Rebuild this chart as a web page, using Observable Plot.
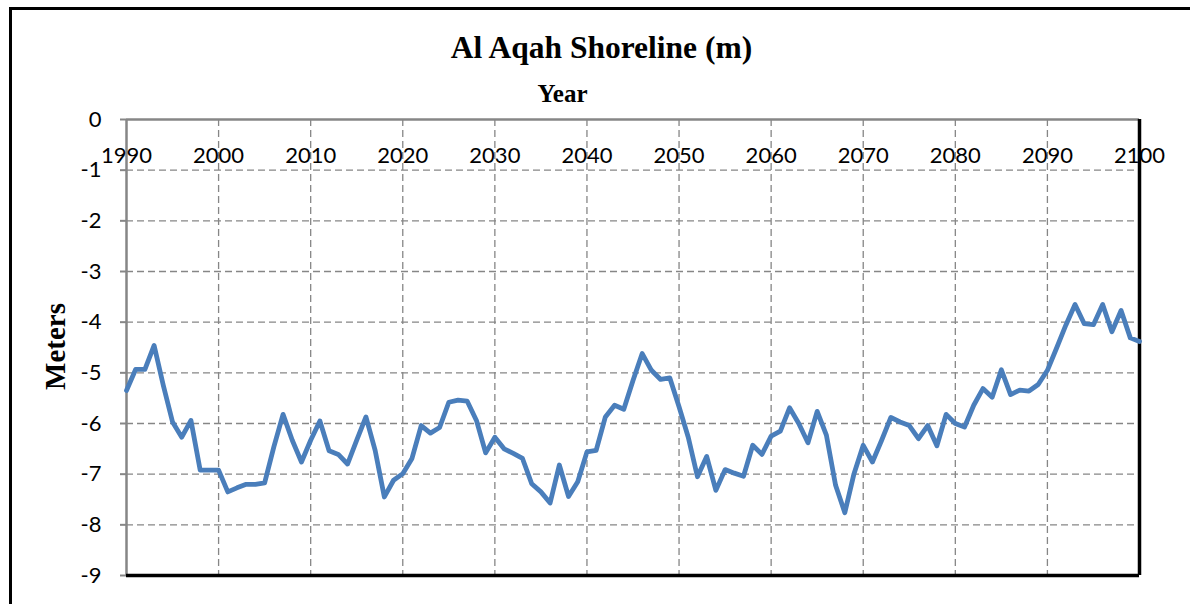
<!DOCTYPE html>
<html>
<head>
<meta charset="utf-8">
<script src="https://cdn.jsdelivr.net/npm/d3@7"></script>
<script src="https://cdn.jsdelivr.net/npm/@observablehq/plot@0.6"></script>
<style>
  html, body { margin: 0; padding: 0; background: #ffffff; }
  #wrap { position: relative; width: 1190px; height: 604px; overflow: hidden; background: #ffffff; }
  #wrap svg { position: absolute; left: 0; top: 0; }
  #frame { position: absolute; left: 8.5px; top: 6.5px; right: -10px; bottom: -10px;
           border-left: 3px solid #000; border-top: 3px solid #000; pointer-events: none; }
</style>
</head>
<body>
<div id="wrap"><div id="frame"></div></div>
<script>
// ---- data ----
const title = "Al Aqah Shoreline (m)";
const xTitle = "Year";
const yTitle = "Meters";
const startYear = 1990;
const meters = [
  -5.35, -4.93, -4.93, -4.46, -5.25, -5.97, -6.27, -5.94, -6.92, -6.92,   // 1990-1999
  -6.92, -7.35, -7.27, -7.20, -7.20, -7.17, -6.46, -5.82, -6.33, -6.76,   // 2000-2009
  -6.33, -5.95, -6.54, -6.61, -6.80, -6.33, -5.87, -6.53, -7.45, -7.12,   // 2010-2019
  -6.99, -6.69, -6.04, -6.19, -6.08, -5.58, -5.54, -5.56, -5.94, -6.58,   // 2020-2029
  -6.27, -6.50, -6.59, -6.69, -7.19, -7.35, -7.57, -6.82, -7.44, -7.15,   // 2030-2039
  -6.56, -6.53, -5.87, -5.64, -5.72, -5.15, -4.62, -4.95, -5.13, -5.10,   // 2040-2049
  -5.67, -6.27, -7.05, -6.65, -7.32, -6.91, -6.98, -7.04, -6.43, -6.61,   // 2050-2059
  -6.25, -6.15, -5.69, -6.00, -6.38, -5.76, -6.23, -7.22, -7.76, -6.99,   // 2060-2069
  -6.43, -6.76, -6.33, -5.88, -5.97, -6.04, -6.30, -6.04, -6.44, -5.82,   // 2070-2079
  -6.00, -6.07, -5.64, -5.31, -5.48, -4.94, -5.43, -5.34, -5.36, -5.23,   // 2080-2089
  -4.95, -4.51, -4.06, -3.65, -4.03, -4.05, -3.65, -4.19, -3.77, -4.31,   // 2090-2099
  -4.38                                                                   // 2100
];
const years = meters.map((_, i) => startYear + i);
const xTicks = [1990, 2000, 2010, 2020, 2030, 2040, 2050, 2060, 2070, 2080, 2090, 2100];
const xGrid = [2000, 2010, 2020, 2030, 2040, 2050, 2060, 2070, 2080, 2090];
const yTicks = [0, -1, -2, -3, -4, -5, -6, -7, -8, -9];
const yGrid = [-1, -2, -3, -4, -5, -6, -7, -8];

const rows = years.map((yr, i) => ({year: yr, value: meters[i]}));

const serif = "'Liberation Serif', 'Times New Roman', serif";
const gridColor = "#868686";

const chart = Plot.plot({
  width: 1190,
  height: 604,
  marginLeft: 126,
  marginRight: 51,
  marginTop: 119,
  marginBottom: 29,
  x: {domain: [1990, 2100], axis: null},
  y: {domain: [-9, 0]},
  style: {fontFamily: "Lato, 'Open Sans', sans-serif", fontSize: "22px", background: "transparent", overflow: "visible", color: "#000"},
  marks: [
    Plot.ruleY(yGrid, {stroke: gridColor, strokeWidth: 1.3, strokeDasharray: "7,4"}),
    Plot.ruleX(xGrid, {stroke: gridColor, strokeWidth: 1.3, strokeDasharray: "7,4"}),
    Plot.ruleY([0], {stroke: gridColor, strokeWidth: 2.5}),
    Plot.ruleX([1990], {stroke: gridColor, strokeWidth: 2.5}),
    Plot.axisY({ticks: yTicks, tickSize: 6, tickPadding: 19, stroke: gridColor, strokeWidth: 2,
                tickFormat: d => String(d), label: null, fontSize: 22}),
    Plot.ruleY([-9], {stroke: "#000", strokeWidth: 3.5}),
    Plot.ruleX([2100], {stroke: "#000", strokeWidth: 3.5}),
    Plot.line(rows, {x: "year", y: "value", stroke: "#4a7ebb", strokeWidth: 4.8,
                     strokeLinejoin: "round", strokeLinecap: "round"}),
    Plot.text(xTicks, {x: d => d, y: 0, text: d => String(d), dy: 36, fontSize: 22, fill: "#000"}),
    Plot.text([title], {frameAnchor: "top", lineAnchor: "middle", textAnchor: "middle", text: d => d,
                        dx: -31.5, dy: -72,
                        fontFamily: serif, fontWeight: "bold", fontSize: 31.5, fill: "#000"}),
    Plot.text([xTitle], {frameAnchor: "top", lineAnchor: "middle", textAnchor: "middle", text: d => d,
                         dx: -70.5, dy: -26,
                         fontFamily: serif, fontWeight: "bold", fontSize: 25, fill: "#000"}),
    Plot.text([yTitle], {frameAnchor: "left", lineAnchor: "middle", textAnchor: "middle", text: d => d,
                         dx: -71, dy: -1, rotate: -90,
                         fontFamily: serif, fontWeight: "bold", fontSize: 29, fill: "#000"})
  ]
});
const wrap = document.getElementById("wrap");
wrap.insertBefore(chart, wrap.firstChild);
</script>
</body>
</html>
